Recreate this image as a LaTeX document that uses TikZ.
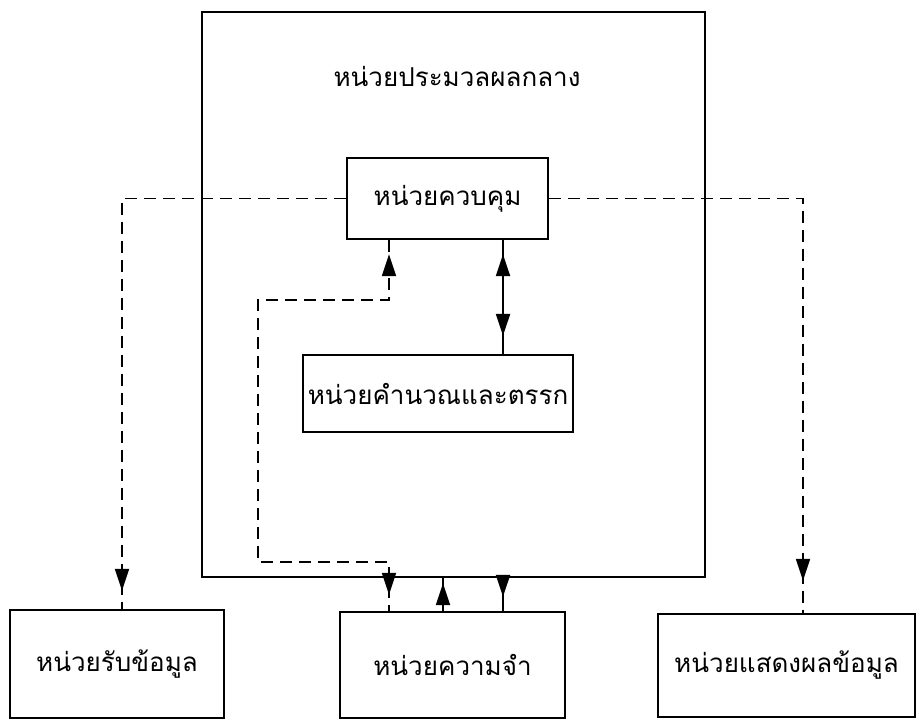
\documentclass[tikz,border=0pt]{standalone}
\usepackage{fontspec}
\newfontfamily\thaifont[Script=Thai]{Loma}
\usetikzlibrary{arrows.meta,decorations.markings}
\begin{document}
\begin{tikzpicture}[x=0.5pt,y=-0.5pt,
  box/.style={draw,line width=1.2pt,rectangle,inner sep=0pt},
  lbl/.style={font=\thaifont\fontsize{13}{15}\selectfont},
  sl/.style={line width=1.1pt},
  dl/.style={line width=0.9pt,dash pattern=on 6pt off 3.5pt},
  tipend/.style={postaction={decorate,decoration={markings,
     mark=at position -#1 with {\arrow{Triangle[length=11pt,width=7pt]}}}}},
  tipstart/.style={postaction={decorate,decoration={markings,
     mark=at position #1 with {\arrowreversed{Triangle[length=11pt,width=7pt]}}}}}
]
\useasboundingbox (0,0) rectangle (924,723);
% boxes
\node[box,minimum width=251.5pt,minimum height=282.5pt] (cpu) at (453.5,294.5) {};
\node[lbl] (cputitle) at (457,76) {หน่วยประมวลผลกลาง};
\node[box,lbl,minimum width=100.5pt,minimum height=40.5pt] (ctrl) at (447.5,198.5) {หน่วยควบคุม};
\node[box,lbl,minimum width=135pt,minimum height=38.5pt] (alu) at (438,393.5) {หน่วยคำนวณและตรรก};
\node[box,lbl,minimum width=107pt,minimum height=54pt] (inp) at (117,664) {หน่วยรับข้อมูล};
\node[box,lbl,minimum width=112.5pt,minimum height=53pt] (mem) at (452.5,665) {หน่วยความจำ};
\node[box,lbl,minimum width=128.5pt,minimum height=51.5pt] (out) at (786.5,665.5) {หน่วยแสดงผลข้อมูล};
% helper coordinates
\coordinate (lin) at (122,0);
\coordinate (rout) at (803,0);
\coordinate (al) at (503,0);
\coordinate (m1) at (389,300);
\coordinate (m2) at (258,562);
\coordinate (mup) at (443,0);
\coordinate (mdn) at (503,0);
% connectors
\draw[dl,tipend=9pt] (ctrl.west) -| (lin |- inp.north);
\draw[dl,tipend=16pt] (ctrl.east) -| (rout |- out.north);
\draw[sl,tipstart=7pt,tipend=9pt] (al |- ctrl.south) -- (al |- alu.north);
\draw[dl,tipstart=7pt,tipend=8pt] (m1 |- ctrl.south) -- (m1) -| (m2) -| (m1 |- mem.north);
\draw[sl,tipend=2.5pt] (mup |- mem.north) -- (mup |- cpu.south);
\draw[sl,tipend=7pt] (mdn |- cpu.south) -- (mdn |- mem.north);
\end{tikzpicture}
\end{document}
